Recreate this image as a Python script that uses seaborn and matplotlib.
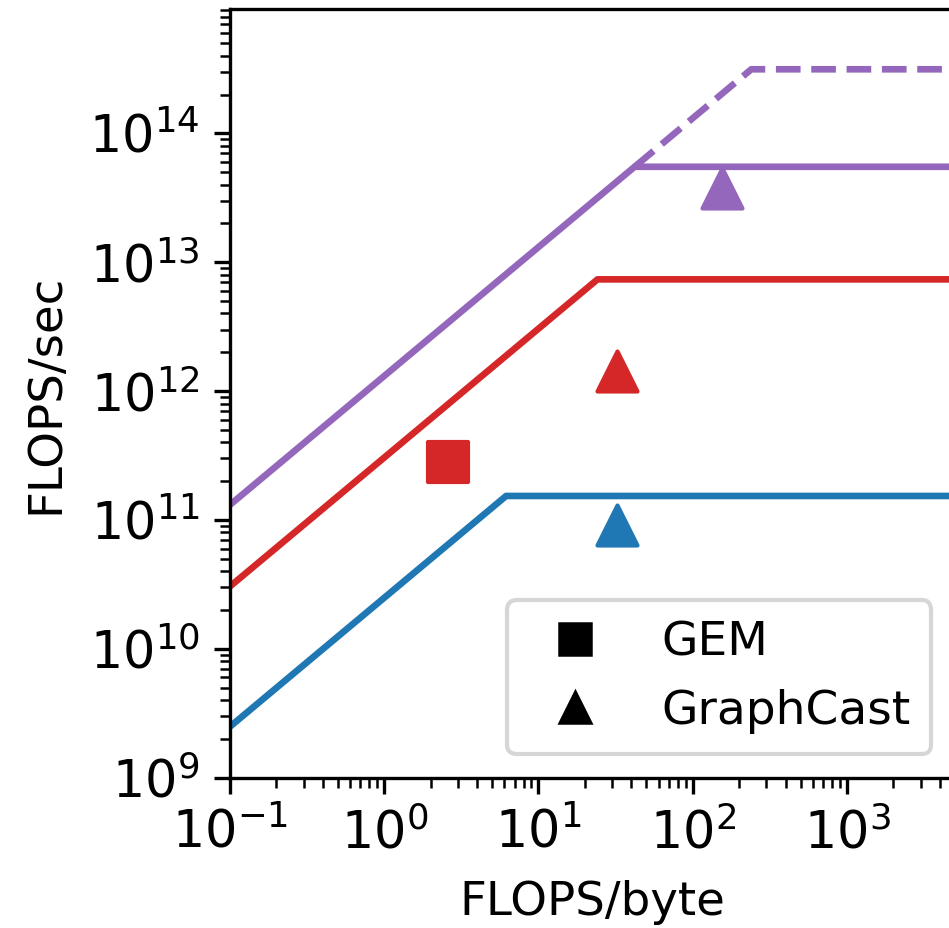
import numpy as np
import pandas as pd
import matplotlib
matplotlib.use("Agg")
import matplotlib.pyplot as plt
from matplotlib.lines import Line2D
import seaborn as sns

# ---------------- data ----------------
devices = ["device A", "device B", "device C", "device C (peak)"]
device_colors = ["#1f77b4", "#d62728", "#9467bd", "#9467bd"]
device_styles = ["solid", "solid", "solid", "dashed"]
peak_flops = [1.535e11, 7.36e12, 5.5e13, 3.14e14]      # FLOPS/sec
bandwidth = [2.49e10, 3.05e11, 1.31e12, 1.31e12]        # bytes/sec
roof_start = [0.1, 0.1, 0.1, None]                        # dashed begins at solid ridge

models = ["GEM", "GraphCast", "GraphCast", "GraphCast"]
model_device = ["device B", "device B", "device A", "device C"]
model_intensity = [2.60, 32.4, 32.4, 155.0]               # FLOPS/byte
model_perf = [2.80e11, 1.43e12, 9.18e10, 3.77e13]         # FLOPS/sec
model_markers = {"GEM": "s", "GraphCast": "^"}

x_min, x_max = 0.1, 5.0e3
y_min, y_max = 1e9, 9.17e14

# ---------------- build roofline table ----------------
rows = []
ridge = {}
for d, p, b in zip(devices, peak_flops, bandwidth):
    ridge[d] = p / b
for d, p, b, s in zip(devices, peak_flops, bandwidth, roof_start):
    start = s if s is not None else ridge["device C"]
    for xv in [start, ridge[d], 2e4]:
        rows.append({"x": xv, "y": min(p, b * xv), "device": d})
roof = pd.DataFrame(rows)

palette = dict(zip(devices, device_colors))
dash_map = {"solid": "", "dashed": (3.7, 1.6)}
dashes = {d: dash_map[s] for d, s in zip(devices, device_styles)}

# ---------------- figure ----------------
W, H, DPI = 949, 928, 300
fig = plt.figure(figsize=(W / DPI, H / DPI), dpi=DPI)
left, right, bottom, top = 230.0, 954.8, 777.7, 9.3
ax = fig.add_axes([left / W, 1 - bottom / H, (right - left) / W, (bottom - top) / H])

sns.lineplot(data=roof, x="x", y="y", hue="device", style="device",
             palette=palette, dashes=dashes, estimator=None, sort=False,
             linewidth=1.6, legend=False, ax=ax)

pts = pd.DataFrame({"model": models, "device": model_device,
                    "x": model_intensity, "y": model_perf})
for _, r in pts.iterrows():
    c = palette[r["device"]]
    sns.scatterplot(x=[r["x"]], y=[r["y"]], marker=model_markers[r["model"]],
                    color=c, edgecolor=c, linewidth=1.0, s=92, ax=ax,
                    legend=False, zorder=3)

ax.set_xscale("log")
ax.set_yscale("log")
ax.set_xlim(x_min, x_max)
ax.set_ylim(y_min, y_max)

ax.tick_params(axis="both", which="major", labelsize=12.2, length=3.8, width=0.8)
ax.tick_params(axis="both", which="minor", length=2.3, width=0.6)
ax.set_xlabel("FLOPS/byte", fontsize=11.2, labelpad=5)
ax.set_ylabel("FLOPS/sec", fontsize=11.2, labelpad=5)

handles = [Line2D([], [], color="black", marker=model_markers[m], linestyle="none",
                  markersize=7.6, markeredgewidth=0.6) for m in ["GEM", "GraphCast"]]
ax.legend(handles, ["GEM", "GraphCast"], loc="lower right", fontsize=11.3,
          handlelength=2.0, handletextpad=0.85, borderpad=0.43, labelspacing=0.5)

fig.savefig("out.png", dpi=DPI)
